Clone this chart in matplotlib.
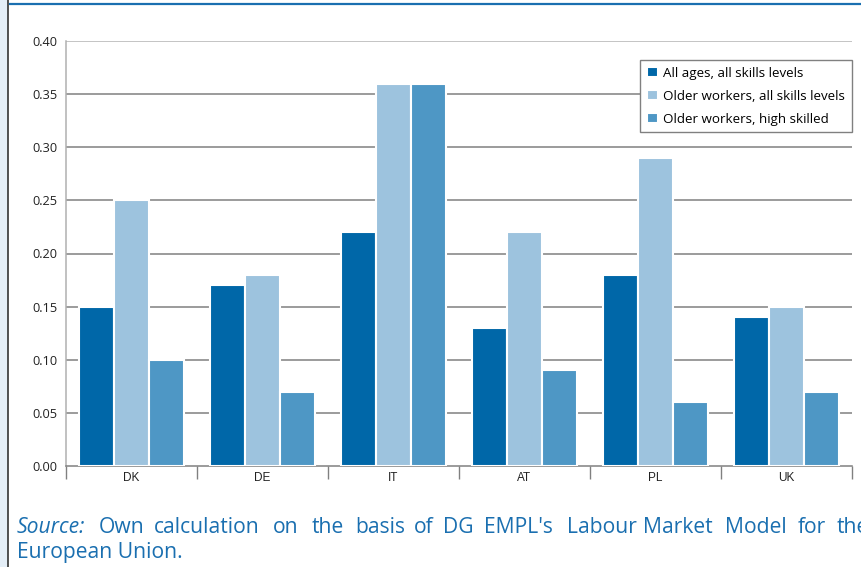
import numpy as np
import matplotlib.pyplot as plt
from matplotlib.patches import Rectangle
from matplotlib.lines import Line2D

countries = ["DK", "DE", "IT", "AT", "PL", "UK"]
series_labels = [
    "All ages, all skills levels",
    "Older workers, all skills levels",
    "Older workers, high skilled",
]
all_ages = [0.15, 0.17, 0.22, 0.13, 0.18, 0.14]
older_all = [0.25, 0.18, 0.36, 0.22, 0.29, 0.15]
older_high = [0.10, 0.07, 0.36, 0.09, 0.06, 0.07]
y_ticks = [0.00, 0.05, 0.10, 0.15, 0.20, 0.25, 0.30, 0.35, 0.40]

source_words = ["Own", "calculation", "on", "the", "basis", "of", "DG", "EMPL's",
                "Labour", "Market", "Model", "for", "the"]
# left edge of each word in the justified source line (pixels)
source_x = [99, 154, 273, 312, 355, 414, 443, 484, 567, 643, 725, 798, 837]

colors = ["#0067a8", "#9dc3de", "#4e97c5"]
text_blue = "#1a6fb0"
W, H = 862, 567

plt.rcParams["font.family"] = ["Open Sans", "DejaVu Sans"]

fig = plt.figure(figsize=(W / 100, H / 100), dpi=100)

# page decoration: light margin strip on the left and the blue rule at the top
fig.patches.append(Rectangle((0, 0), 8 / W, 1, transform=fig.transFigure,
                             facecolor="#e4eef7", edgecolor="none", zorder=0))
fig.lines.append(Line2D([8.5 / W, 8.5 / W], [0, 1], transform=fig.transFigure,
                        color="#333333", linewidth=1.2))
fig.lines.append(Line2D([10 / W, 1], [1 - 4 / H, 1 - 4 / H], transform=fig.transFigure,
                        color="#1a6fb0", linewidth=1.6))

ax = fig.add_axes([66 / W, 1 - 466 / H, 786 / W, 425 / H])

x = np.arange(len(countries))
step = 0.267
for i, (vals, col, lab) in enumerate(zip([all_ages, older_all, older_high], colors, series_labels)):
    ax.bar(x + (i - 1) * step, vals, width=step, color=col, edgecolor="white",
           linewidth=1.5, label=lab, zorder=3)

ax.set_xlim(-0.5, len(countries) - 0.5)
ax.set_ylim(0, 0.40)
ax.set_yticks(y_ticks)
ax.set_yticklabels([f"{v:.2f}" for v in y_ticks], fontsize=9.2, color="#222222")
ax.tick_params(axis="y", length=0, pad=6)

ax.set_xticks(x)
ax.set_xticklabels(countries, fontsize=8.5, color="#222222",
                   fontfamily=["Liberation Sans Narrow", "Liberation Sans", "DejaVu Sans"])
ax.set_xticks(np.arange(len(countries) + 1) - 0.5, minor=True)
ax.tick_params(axis="x", which="major", length=0, pad=4)
ax.tick_params(axis="x", which="minor", length=9, color="#808080", width=1)

for v in y_ticks[1:-1]:
    ax.axhline(v, color="#808080", linewidth=1.1, zorder=1)
ax.axhline(0.40, color="#b4b4b4", linewidth=1.1, zorder=1)

for side in ["top", "right"]:
    ax.spines[side].set_visible(False)
ax.spines["left"].set_color("#b0b0b0")
ax.spines["bottom"].set_color("#808080")
ax.spines["left"].set_linewidth(1.1)
ax.spines["bottom"].set_linewidth(1.1)

leg = ax.legend(loc="upper right", bbox_to_anchor=(1.0, 0.955), fontsize=9.6,
                frameon=True, fancybox=False, edgecolor="#808080", framealpha=1,
                handlelength=0.85, handleheight=0.85, handletextpad=0.4,
                labelspacing=0.75, borderpad=0.5, borderaxespad=0.0)
leg.get_frame().set_linewidth(1.0)
leg.set_zorder(5)

fs = 15.2
fig.text(17 / W, 1 - 533 / H, "Source:", fontsize=fs, color=text_blue,
         style="italic", va="baseline")
for word, px in zip(source_words, source_x):
    fig.text(px / W, 1 - 533 / H, word, fontsize=fs, color=text_blue, va="baseline")
fig.text(17 / W, 1 - 558 / H, "European Union.", fontsize=fs, color=text_blue, va="baseline")

fig.savefig("out.png", dpi=100)
